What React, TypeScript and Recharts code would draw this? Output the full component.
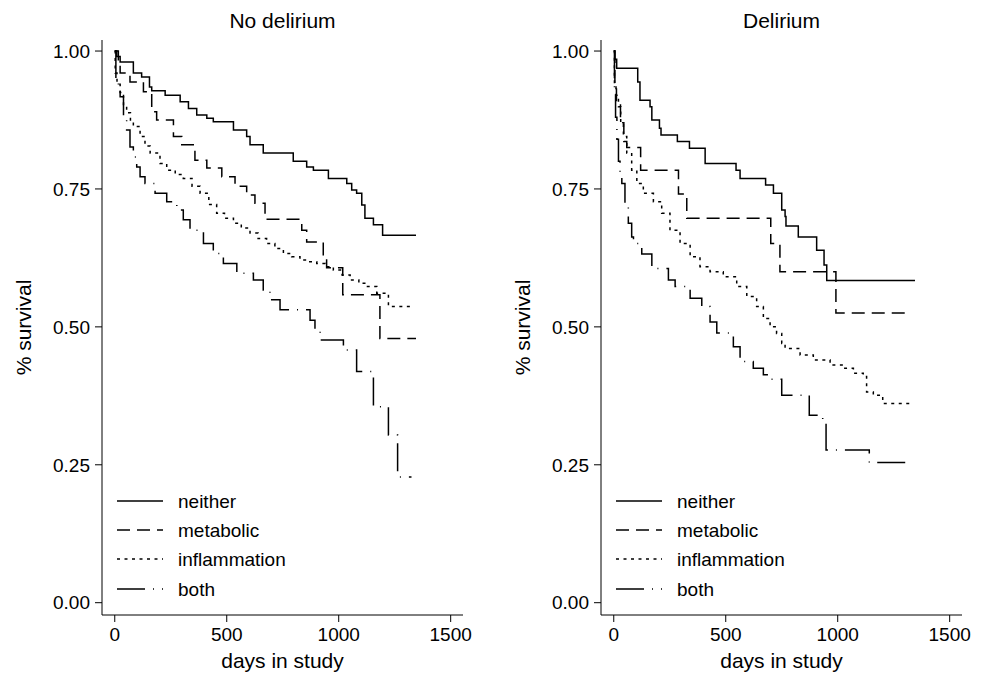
import React from 'react';
import { LineChart, Line, XAxis, YAxis, Legend, Label } from 'recharts';

// Kaplan-Meier survival by group as [day, survival]
const groupNames = ['neither', 'metabolic', 'inflammation', 'both'];
const dayTicks = [0, 500, 1000, 1500];
const survivalTicks = [0, 0.25, 0.5, 0.75, 1];

const noDelNeither = [
    [0, 1], [9, 0.99], [24, 0.98], [83, 0.96], [120, 0.953], [155, 0.935], [165, 0.928], [225, 0.92],
    [292, 0.908], [329, 0.896], [366, 0.884], [411, 0.878], [440, 0.872], [530, 0.857], [589, 0.845],
    [604, 0.83], [663, 0.815], [797, 0.8], [857, 0.79], [887, 0.784], [954, 0.769], [1036, 0.76],
    [1058, 0.748], [1080, 0.742], [1103, 0.721], [1117, 0.697], [1155, 0.685], [1196, 0.666], [1345, 0.666],
];
const noDelMetabolic = [
    [0, 1], [16, 0.98], [24, 0.96], [68, 0.944], [128, 0.926], [165, 0.89], [187, 0.875], [262, 0.845],
    [299, 0.83], [358, 0.802], [411, 0.788], [478, 0.772], [537, 0.755], [589, 0.739], [626, 0.724],
    [671, 0.695], [835, 0.675], [857, 0.654], [931, 0.627], [946, 0.607], [1018, 0.558], [1184, 0.479],
    [1345, 0.479],
];
const noDelInflammation = [
    [0, 1], [2, 0.96], [10, 0.94], [24, 0.925], [39, 0.9], [53, 0.888], [70, 0.872], [83, 0.863],
    [113, 0.845], [135, 0.828], [158, 0.815], [202, 0.796], [232, 0.784], [270, 0.776], [306, 0.769],
    [345, 0.755], [381, 0.742], [420, 0.722], [455, 0.706], [490, 0.697], [530, 0.688], [565, 0.679],
    [604, 0.67], [640, 0.66], [678, 0.651], [715, 0.642], [753, 0.633], [790, 0.627], [827, 0.621],
    [865, 0.618], [902, 0.615], [940, 0.609], [976, 0.603], [1015, 0.594], [1051, 0.585], [1090, 0.579],
    [1125, 0.573], [1170, 0.561], [1222, 0.537], [1318, 0.537],
];
const noDelBoth = [
    [0, 1], [5, 0.95], [16, 0.93], [24, 0.917], [39, 0.881], [53, 0.857], [68, 0.826], [83, 0.808],
    [98, 0.79], [113, 0.772], [135, 0.76], [180, 0.742], [232, 0.727], [277, 0.712], [306, 0.694],
    [336, 0.675], [396, 0.651], [440, 0.633], [485, 0.615], [545, 0.597], [619, 0.585], [663, 0.567],
    [693, 0.549], [738, 0.531], [872, 0.512], [894, 0.494], [917, 0.476], [1021, 0.458], [1080, 0.419],
    [1155, 0.355], [1222, 0.304], [1263, 0.228], [1325, 0.228],
];

const delNeither = [
    [0, 1], [5, 0.985], [13, 0.969], [107, 0.944], [117, 0.911], [162, 0.899], [170, 0.875], [204, 0.86],
    [211, 0.848], [284, 0.836], [338, 0.824], [408, 0.796], [546, 0.784], [564, 0.769], [678, 0.757],
    [713, 0.742], [750, 0.712], [765, 0.7], [769, 0.683], [824, 0.663], [906, 0.639], [939, 0.612],
    [951, 0.584], [1345, 0.584],
];
const delMetabolic = [
    [0, 1], [5, 0.94], [12, 0.905], [30, 0.87], [45, 0.836], [58, 0.825], [120, 0.784], [289, 0.741],
    [326, 0.697], [701, 0.651], [742, 0.6], [992, 0.525], [1300, 0.525],
];
const delInflammation = [
    [0, 1], [3, 0.94], [10, 0.92], [21, 0.899], [31, 0.869], [43, 0.845], [58, 0.815], [80, 0.784],
    [103, 0.76], [132, 0.742], [177, 0.727], [214, 0.706], [251, 0.675], [296, 0.651], [341, 0.627],
    [385, 0.609], [430, 0.6], [489, 0.591], [549, 0.573], [594, 0.555], [638, 0.537], [668, 0.515],
    [698, 0.5], [727, 0.488], [750, 0.47], [765, 0.461], [832, 0.449], [891, 0.44], [966, 0.431],
    [1025, 0.425], [1070, 0.416], [1114, 0.41], [1129, 0.382], [1159, 0.376], [1201, 0.361], [1330, 0.361],
];
const delBoth = [
    [0, 1], [3, 0.93], [8, 0.88], [14, 0.84], [21, 0.8], [28, 0.78], [36, 0.76], [50, 0.724], [65, 0.688],
    [80, 0.663], [88, 0.651], [125, 0.632], [170, 0.606], [244, 0.585], [274, 0.573], [341, 0.552],
    [393, 0.537], [430, 0.509], [460, 0.489], [534, 0.464], [564, 0.437], [623, 0.425], [668, 0.413],
    [698, 0.405], [750, 0.376], [873, 0.34], [933, 0.33], [948, 0.277], [1141, 0.254], [1330, 0.254],
];

const FONT = '"Liberation Sans", Arial, Helvetica, sans-serif';
const dashes = ['', '13 7', '3 4.5', '28 8 1 8'];

const toPoints = (arr: number[][]) => arr.map(([day, s]) => ({ day, s }));

function YTitle({ viewBox }: any) {
    const cx = viewBox.x + viewBox.width - 79;
    const cy = viewBox.y + viewBox.height / 2;
    return (
        <text x={cx} y={cy} transform={`rotate(-90 ${cx} ${cy})`} textAnchor="middle" dominantBaseline="central"
            fontSize={21} fontFamily={FONT} fill="#000">% survival</text>
    );
}

function KmLegend() {
    return (
        <div style={{ fontFamily: FONT, fontSize: 19, color: '#000' }}>
            {groupNames.map((name, i) => (
                <div key={name} style={{ display: 'flex', alignItems: 'center', height: 29.3 }}>
                    <svg width={46} height={10} style={{ marginRight: 15 }}>
                        <line x1={0} y1={4} x2={46} y2={4} stroke="#000" strokeWidth={1.5} strokeDasharray={dashes[i] || undefined} />
                    </svg>
                    <span>{name}</span>
                </div>
            ))}
        </div>
    );
}

function Panel({ title, groups, yWidth, rightMargin }: { title: string, groups: number[][][], yWidth: number, rightMargin: number }) {
    const plotLeft = yWidth;
    const plotRight = 493 - rightMargin;
    return (
        <div style={{ position: 'relative', width: 493, height: 674 }}>
            <div style={{
                position: 'absolute', top: 8, left: plotLeft, width: plotRight - plotLeft, textAlign: 'center',
                fontFamily: FONT, fontSize: 21, lineHeight: '26px', color: '#000'
            }}>{title}</div>
            <LineChart width={493} height={674} margin={{ top: 40, right: rightMargin, bottom: 0, left: 0 }}>
                <XAxis dataKey="day" type="number" domain={[-57, 1555]} ticks={dayTicks} height={59}
                    stroke="#000" tickSize={7} tickMargin={6} allowDataOverflow
                    tick={{ fontSize: 19, fill: '#000', fontFamily: FONT }}>
                    <Label value="days in study" position="insideBottom" offset={6} fontSize={21} fontFamily={FONT} fill="#000" />
                </XAxis>
                <YAxis type="number" domain={[-0.0223, 1.02]} ticks={survivalTicks} width={yWidth}
                    stroke="#000" tickSize={7} tickMargin={5} allowDataOverflow
                    tickFormatter={(v: number) => v.toFixed(2)}
                    tick={{ fontSize: 19, fill: '#000', fontFamily: FONT }}>
                    <Label content={<YTitle />} />
                </YAxis>
                {groups.map((g, i) => (
                    <Line key={groupNames[i]} name={groupNames[i]} data={toPoints(g)} dataKey="s" type="stepAfter"
                        stroke="#000" strokeWidth={1.5} strokeDasharray={dashes[i] || undefined}
                        dot={false} activeDot={false} isAnimationActive={false} />
                ))}
                <Legend content={<KmLegend />} layout="vertical" align="center" verticalAlign="middle"
                    wrapperStyle={{ left: plotLeft + 15, top: 487, width: 'auto', height: 'auto' }} />
            </LineChart>
        </div>
    );
}

export default function App() {
    return (
        <div style={{ position: 'absolute', left: 0, top: 0, width: 986, height: 674, background: '#fff', display: 'flex' }}>
            <Panel title="No delirium" groups={[noDelNeither, noDelMetabolic, noDelInflammation, noDelBoth]} yWidth={102} rightMargin={30} />
            <Panel title="Delirium" groups={[delNeither, delMetabolic, delInflammation, delBoth]} yWidth={108} rightMargin={24} />
        </div>
    );
}
